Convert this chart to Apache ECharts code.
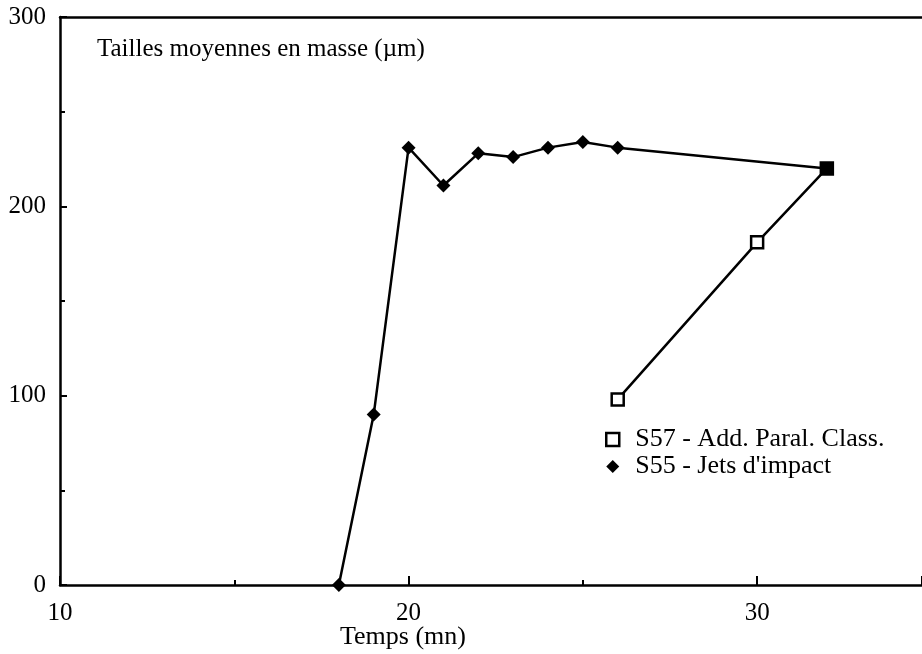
<!DOCTYPE html>
<html><head><meta charset="utf-8">
<script src="https://cdn.jsdelivr.net/npm/echarts@6/dist/echarts.min.js"></script>
<style>html,body{margin:0;padding:0;background:#fff}#c{width:922px;height:654px}</style>
</head><body><div id="c"></div>
<script>
const titleText = 'Tailles moyennes en masse (µm)';
const xName = 'Temps (mn)';
const s55Name = "S55 - Jets d'impact";
const s57Name = 'S57 - Add. Paral. Class.';
const s55Times = [18, 19, 20, 21, 22, 23, 24, 25, 26, 32];
const s55Values = [0, 90, 231, 211, 228, 226, 231, 234, 231, 220];
const s57Times = [26, 30, 32];
const s57Values = [98, 181, 220];

const font = 'Liberation Serif';
const chart = echarts.init(document.getElementById('c'));
const s55Data = s55Times.map((t, i) => {
  const p = { value: [t, s55Values[i]] };
  if (i === s55Times.length - 1) p.symbol = 'none';
  return p;
});
const s57Data = s57Times.map((t, i) => {
  const p = { value: [t, s57Values[i]] };
  if (i === s57Times.length - 1) p.itemStyle = { color: '#000', borderColor: '#000' };
  return p;
});
chart.setOption({
  animation: false,
  backgroundColor: '#fff',
  title: { text: titleText, left: 92, top: 32, textStyle: { fontFamily: font, fontSize: 25, fontWeight: 'normal', color: '#000' } },
  grid: { left: 60, top: 17, bottom: 69, right: 0, outerBoundsMode: 'none', containLabel: false },
  legend: {
    orient: 'vertical', left: 600, top: 421, itemGap: 0, itemWidth: 13, itemHeight: 13,
    textStyle: { fontFamily: font, fontSize: 26, lineHeight: 27, color: '#000', padding: [0, 0, 0, 11] },
    data: [
      { name: s57Name, icon: 'rect', itemStyle: { color: '#fff', borderColor: '#000', borderWidth: 2.5 } },
      { name: s55Name, icon: 'diamond', itemStyle: { color: '#000' } }
    ]
  },
  xAxis: [{
    type: 'value', min: 10, max: 34.73, interval: 10,
    name: xName, nameLocation: 'middle', nameGap: 39, nameMoveOverlap: false,
    nameTextStyle: { fontFamily: font, fontSize: 26, color: '#000', padding: [0, 176, 0, 0] },
    axisLine: { show: true, lineStyle: { color: '#000', width: 2.5 } },
    axisTick: { show: true, inside: true, length: 9, lineStyle: { color: '#000', width: 2 } },
    minorTick: { show: true, splitNumber: 2, length: 5, lineStyle: { color: '#000', width: 2 } },
    splitLine: { show: false },
    axisLabel: { fontFamily: font, fontSize: 25, color: '#000', margin: 16, showMaxLabel: false }
  }, {
    type: 'value', position: 'top', min: 10, max: 34.73,
    axisLine: { show: true, lineStyle: { color: '#000', width: 2.5 } },
    axisTick: { show: false }, axisLabel: { show: false }, splitLine: { show: false }
  }],
  yAxis: {
    type: 'value', min: 0, max: 300, interval: 100,
    axisLine: { show: true, lineStyle: { color: '#000', width: 2.5 } },
    axisTick: { show: true, inside: true, length: 7, lineStyle: { color: '#000', width: 2 } },
    minorTick: { show: true, splitNumber: 2, length: 5, lineStyle: { color: '#000', width: 2 } },
    splitLine: { show: false },
    axisLabel: { fontFamily: font, fontSize: 25, color: '#000', margin: 14 }
  },
  series: [
    {
      name: s55Name, type: 'line', data: s55Data, symbol: 'diamond', symbolSize: 14,
      lineStyle: { color: '#000', width: 2.5 }, itemStyle: { color: '#000' }, z: 3
    },
    {
      name: s57Name, type: 'line', data: s57Data, symbol: 'rect', symbolSize: 12,
      lineStyle: { color: '#000', width: 2.5 },
      itemStyle: { color: '#fff', borderColor: '#000', borderWidth: 2.5 }, z: 4
    }
  ]
});
</script></body></html>
